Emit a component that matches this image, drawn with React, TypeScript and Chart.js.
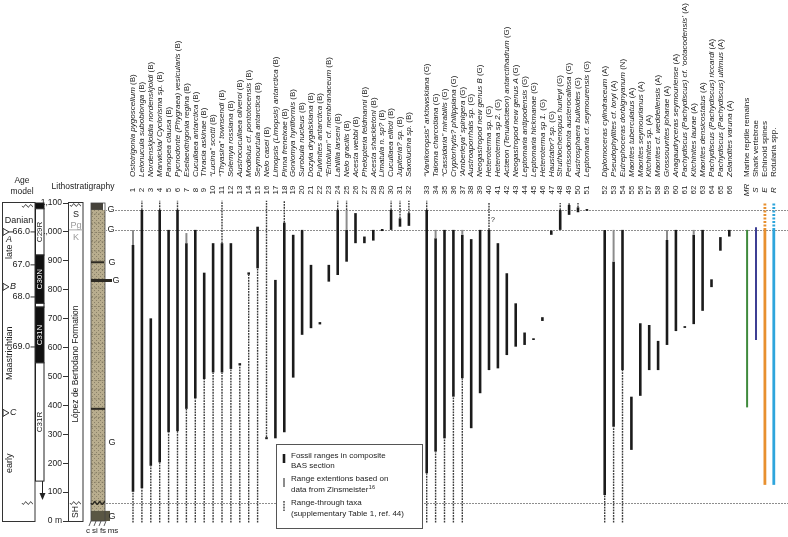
import React, { useEffect, useRef } from "react";
import { Chart, registerables } from "chart.js";

Chart.register(...registerables);

// ---------------- DATA ----------------
const taxonNames = [
  "Ostotrigonia pygoscelium (B)",
  "Leionucula suboblonga (B)",
  "Nordenskjoldia nordenskjoldi (B)",
  "Marwickia/ Cyclorisma sp. (B)",
  "Panopea clausa (B)",
  "Pycnodonte (Phygraea) vesicularis (B)",
  "Eselaevitrigonia regina (B)",
  "Cucullaea antarctica (B)",
  "Thracia askinae (B)",
  "\u201cLucina\u201d scotti (B)",
  "\u201cThyasira\u201d townsendi (B)",
  "Solemya rossiana (B)",
  "Austrocucullaea oliveroi (B)",
  "Modiolus cf. pontotocensis (B)",
  "Seymourtula antarctica (B)",
  "Nelo casei (B)",
  "Limopsis (Limopsis) antarctica (B)",
  "Pinna freneixae (B)",
  "Goniomya hyriiformis (B)",
  "Surobula nucleus (B)",
  "Dozyia drygalskiana (B)",
  "Pulvinites antarctica (B)",
  "\u201cEntolium\u201d cf. membranaceum (B)",
  "Lahillia larseni (B)",
  "Nelo gracilis (B)",
  "Acesta webbi (B)",
  "Phelopteria feldmanni (B)",
  "Acesta shackletoni (B)",
  "Limatula n. sp? (B)",
  "Cucullaea ellioti (B)",
  "Jupiteria? sp. (B)",
  "Saxolucina sp. (B)",
  "\u201cVanikoropsis\u201d arktowskiana (G)",
  "Taioma charcotiana (G)",
  "\u201cCassidaria\u201d mirabilis (G)",
  "Cryptorhytis? philippiana (G)",
  "\u2018Amberleya\u2019 spinigera (G)",
  "Austroaporrhais sp. (G)",
  "Neogastropod new genus B (G)",
  "Heteroterma sp. (G)",
  "Heteroterma sp 2. (G)",
  "Act\u00e6on (Tenuiact\u00e6on) antarctihadrum (G)",
  "Neogastropod new genus A (G)",
  "Leptomaria antipodensis (G)",
  "Leptomaria hickmanae (G)",
  "Heteroterma sp 1. (G)",
  "Haustator? sp. (G)",
  "Struthiochenopus hurleyi (G)",
  "Perissodonta austerocallosa (G)",
  "Austrosphaera bulloides (G)",
  "Leptomaria cf. seymourensis (G)",
  "Diplomoceras cylindraceum (A)",
  "Pseudophyllites cf. loryi (A)",
  "Eutrephoceras dorbignyanum (N)",
  "Maorites tuberculatus (A)",
  "Maorites seymourianus (A)",
  "Kitchinites sp. (A)",
  "Maorites cf. weddellensis (A)",
  "Grossouvrites joharae (A)",
  "Anagaudryceras seymouriense (A)",
  "Pachydiscus (Pachydiscus) cf. \u2018ootacodensis\u2019 (A)",
  "Kitchinites laurae (A)",
  "Maorites densicostatus (A)",
  "Pachydiscus (Pachydiscus) riccardi (A)",
  "Pachydiscus (Pachydiscus) ultimus (A)",
  "Zelandites varuna (A)",
];

// fossil ranges in composite BAS section (metres)
const rangeLow = [
  101, 113, 191, 203, 307, 311, 388, 424, 491, 514,
  514, 526, 538, 852, 874, 283, 286, 307, 496, 644,
  667, 680, 828, 851, 897, 961, 961, 970, 1003, 1007,
  1018, 1021, 165, 240, 286, 430, 494, 321, 442, 522,
  528, 574, 603, 609, 626, 692, 990, 1007, 1059, 1068,
  1073, 90, 326, 522, 246, 433, 522, 522, 609, 657,
  668, 681, 727, 809, 935, 984,
];
const rangeHigh = [
  955, 1076, 701, 1076, 1007, 1076, 961, 1007, 859, 961,
  961, 961, 546, 860, 1018, 290, 834, 1032, 990, 1007,
  886, 688, 886, 1076, 1007, 1065, 984, 1007, 1010, 1076,
  1047, 1065, 1076, 978, 1007, 1007, 990, 975, 1007, 1007,
  961, 857, 753, 652, 632, 705, 1005, 1076, 1093, 1085,
  1079, 1007, 897, 1007, 430, 684, 678, 623, 972, 1007,
  674, 990, 1007, 836, 982, 1007,
];
// range extensions based on data from Zinsmeister
const N = null;
const extLow = [
  955, N, N, N, N, N, 961, N, N, N,
  N, N, N, N, N, N, N, N, N, N,
  N, N, N, N, 1007, N, N, N, N, N,
  N, N, N, 978, N, N, 990, N, N, N,
  N, N, N, N, N, N, N, N, N, N,
  N, N, 897, N, N, N, N, N, 972, N,
  N, 990, N, N, N, N,
];
const extHigh = [
  1007, N, N, N, N, N, 996, N, N, N,
  N, N, N, N, N, N, N, N, N, N,
  N, N, N, N, 1076, N, N, N, N, N,
  N, N, N, 1007, N, N, 1007, N, N, N,
  N, N, N, N, N, N, N, N, N, N,
  N, N, 1007, N, N, N, N, N, 1007, N,
  N, 1007, N, N, N, N,
];
// range-through taxa: lower end of the line below the range, upper end above it
const throughBelow = [
  -5, -5, -5, -5, -5, -5, -5, -5, -5, -5,
  -5, -5, -5, -5, -5, N, N, N, N, N,
  N, N, N, N, N, N, N, N, N, N,
  N, N, -5, -5, -5, -5, -5, N, N, N,
  N, N, N, N, N, N, N, N, N, N,
  N, -5, -5, -5, N, N, N, N, N, N,
  N, N, N, N, N, N,
];
const throughAbove = [
  N, 1108, N, 1108, N, 1108, N, N, N, N,
  1108, N, N, N, N, 1108, N, 1108, N, N,
  N, N, N, 1108, 1108, N, N, N, N, 1108,
  1108, 1108, 1108, N, N, N, N, N, N, 1100,
  N, N, N, N, N, N, N, 1100, 1100, 1100,
  N, N, N, N, N, N, N, N, N, N,
  N, N, N, N, N, N,
];

const extraCodes = ["MR", "S", "E", "R"];
const extraNames = ["Marine reptile remains", "Shark vertebrae", "Echinoid spines", "Rotularia spp."];
const extraLow = [393, 626, 125, 125];
const extraHigh = [1007, 1016, 1007, 1007];
const extraDashedHigh = [N, N, 1099, 1099];
const extraColors = ["#3f8a3c", "#3d3f94", "#e8902f", "#2ea5dc"];

const horizonLines = [1076, 1007, 62];
const yTicks = [0, 100, 200, 300, 400, 500, 600, 700, 800, 900, 1000, 1100];

const ageLabels = ["66.0", "67.0", "68.0", "69.0"];
const ageHeights = [1000, 886, 775, 602];
const tieLabels = ["A", "B", "C"];
const tieHeights = [1000, 810, 374];
const chronNames = ["", "C29R", "C30N", "", "C31N", "C31R"];
const chronTop = [1100, 1080, 920, 753, 740, 547];
const chronBottom = [1080, 920, 753, 740, 547, 138];
const chronNormal = [true, false, true, false, true, false];
const glauconiteHeights = [1076, 1007, 895, 832, 273, 14];

// ---------------- LAYOUT HELPERS ----------------
const FONT = '"Liberation Sans", Arial, Helvetica, sans-serif';
const slotOf = (i: number) => i + 1 + (i >= 32 ? 1 : 0) + (i >= 51 ? 1 : 0);
const extraSlot = (j: number) => 70 + j;

const DOT_STYLE = { borderColor: "#3a3a3a", borderWidth: 1.4, borderDash: [1.8, 1.0] };
const EXT_STYLE = { borderColor: "#8c8c8c", borderWidth: 2 };
const RANGE_STYLE = { borderColor: "#1b1b1b", borderWidth: 2.6 };

function segDataset(label: string, slot: number, lo: number, hi: number, style: any) {
  return {
    label,
    data: [
      { x: slot, y: lo },
      { x: slot, y: hi },
    ],
    pointRadius: 0,
    pointHoverRadius: 0,
    tension: 0,
    fill: false,
    clip: false,
    borderCapStyle: "butt",
    ...style,
  };
}

function buildDatasets() {
  const ds: any[] = [];
  taxonNames.forEach((name, i) => {
    const s = slotOf(i);
    if (throughBelow[i] != null) ds.push(segDataset(name + " through", s, throughBelow[i] as number, rangeLow[i], DOT_STYLE));
    if (throughAbove[i] != null) {
      const top = extHigh[i] != null ? Math.max(rangeHigh[i], extHigh[i] as number) : rangeHigh[i];
      ds.push(segDataset(name + " through", s, top, throughAbove[i] as number, DOT_STYLE));
    }
    if (extLow[i] != null) ds.push(segDataset(name + " extension", s, extLow[i] as number, extHigh[i] as number, EXT_STYLE));
    ds.push(segDataset(name, s, rangeLow[i], rangeHigh[i], RANGE_STYLE));
  });
  extraCodes.forEach((c, j) => {
    const w = j >= 2 ? 2.8 : 2;
    ds.push(segDataset(extraNames[j], extraSlot(j), extraLow[j], extraHigh[j], { borderColor: extraColors[j], borderWidth: w }));
    if (extraDashedHigh[j] != null) {
      ds.push(
        segDataset(extraNames[j] + " (Danian)", extraSlot(j), extraHigh[j], extraDashedHigh[j] as number, {
          borderColor: extraColors[j],
          borderWidth: w,
          borderDash: [2, 1.5],
        })
      );
    }
  });
  return ds;
}

function wavy(ctx: CanvasRenderingContext2D, x0: number, x1: number, y: number) {
  ctx.beginPath();
  for (let x = x0; x <= x1; x += 0.5) {
    const yy = y + Math.sin(((x - x0) / 5) * Math.PI * 2) * 1.3;
    if (x === x0) ctx.moveTo(x, yy);
    else ctx.lineTo(x, yy);
  }
  ctx.stroke();
}

function rotText(ctx: CanvasRenderingContext2D, text: string, x: number, y: number, align: CanvasTextAlign) {
  ctx.save();
  ctx.translate(x, y);
  ctx.rotate(-Math.PI / 2);
  ctx.textAlign = align;
  ctx.textBaseline = "middle";
  ctx.fillText(text, 0, 0);
  ctx.restore();
}

const decor = {
  id: "decor",
  beforeDatasetsDraw(chart: any) {
    const ctx: CanvasRenderingContext2D = chart.ctx;
    const Y = (v: number) => chart.scales.y.getPixelForValue(v);
    ctx.save();
    ctx.strokeStyle = "#8e8e8e";
    ctx.lineWidth = 1.2;
    ctx.setLineDash([2, 1]);
    horizonLines.forEach((h) => {
      ctx.beginPath();
      ctx.moveTo(103, Math.round(Y(h)) + 0.5);
      ctx.lineTo(788, Math.round(Y(h)) + 0.5);
      ctx.stroke();
    });
    ctx.restore();
  },
  afterDraw(chart: any) {
    const ctx: CanvasRenderingContext2D = chart.ctx;
    const Y = (v: number) => chart.scales.y.getPixelForValue(v);
    const X = (v: number) => chart.scales.x.getPixelForValue(v);
    ctx.save();
    ctx.fillStyle = "#222";
    ctx.strokeStyle = "#333";
    ctx.lineWidth = 1;

    // ---- headers
    ctx.font = `8.5px ${FONT}`;
    ctx.textAlign = "center";
    ctx.textBaseline = "middle";
    ctx.fillText("Age", 22, 181);
    ctx.fillText("model", 22, 192);
    ctx.fillText("Lithostratigraphy", 83, 187);

    // ---- age model box
    const top = Math.round(Y(1100)) - 0.5;
    const bot = Math.round(Y(0)) + 0.5;
    ctx.strokeRect(2.5, top, 32.5, bot - top);
    chronNames.forEach((name, k) => {
      const y0 = Y(chronTop[k]);
      const y1 = Y(chronBottom[k]);
      ctx.fillStyle = chronNormal[k] ? "#111" : "#fff";
      ctx.fillRect(35, y0, 9, y1 - y0);
      ctx.strokeStyle = "#222";
      ctx.strokeRect(35.5, y0, 8.5, y1 - y0);
      if (name) {
        ctx.fillStyle = chronNormal[k] ? "#fff" : "#222";
        ctx.font = `8px ${FONT}`;
        rotText(ctx, name, 40, (y0 + y1) / 2, "center");
      }
    });
    ctx.strokeStyle = "#222";
    ctx.beginPath();
    ctx.moveTo(42.5, Y(138));
    ctx.lineTo(42.5, 498);
    ctx.stroke();
    ctx.fillStyle = "#222";
    ctx.beginPath();
    ctx.moveTo(39.5, 493);
    ctx.lineTo(45.5, 493);
    ctx.lineTo(42.5, 500);
    ctx.closePath();
    ctx.fill();
    ctx.strokeStyle = "#333";
    wavy(ctx, 22, 33, Y(1090));
    wavy(ctx, 22, 33, Y(62));
    ctx.fillStyle = "#222";
    ctx.font = `9px ${FONT}`;
    ctx.textAlign = "center";
    ctx.fillText("Danian", 19, Y(1041));
    ageLabels.forEach((a, k) => {
      const y = Y(ageHeights[k]);
      ctx.textAlign = "right";
      ctx.fillText(a, 30, y);
      ctx.beginPath();
      ctx.moveTo(30.5, y);
      ctx.lineTo(35, y);
      ctx.stroke();
    });
    rotText(ctx, "late", 10, Y(931), "center");
    rotText(ctx, "Maastrichtian", 10, Y(580), "center");
    rotText(ctx, "early", 10, Y(200), "center");
    tieLabels.forEach((t, k) => {
      const y = Y(tieHeights[k]);
      ctx.beginPath();
      ctx.moveTo(3, y - 3.5);
      ctx.lineTo(9, y);
      ctx.lineTo(3, y + 3.5);
      ctx.closePath();
      ctx.stroke();
      ctx.font = `italic 9px ${FONT}`;
      ctx.textAlign = "left";
      if (k === 0) {
        ctx.beginPath();
        ctx.moveTo(9, y);
        ctx.lineTo(13, y);
        ctx.stroke();
        ctx.fillText(t, 6, y + 8);
      } else ctx.fillText(t, 10, y);
    });

    // ---- lithostratigraphy box
    ctx.strokeStyle = "#333";
    ctx.strokeRect(68.5, top, 14.5, bot - top);
    wavy(ctx, 70, 81, Y(1093));
    wavy(ctx, 70, 81, Y(62));
    ctx.strokeStyle = "#aaa";
    ctx.beginPath();
    ctx.moveTo(69, Y(1007));
    ctx.lineTo(83, Y(1007));
    ctx.stroke();
    ctx.font = `9px ${FONT}`;
    ctx.textAlign = "center";
    ctx.fillStyle = "#222";
    ctx.fillText("S", 76, 215);
    ctx.fillStyle = "#9a9a9a";
    ctx.fillText("Pg", 76, 226);
    ctx.fillText("K", 76, 238);
    ctx.fillStyle = "#222";
    ctx.font = `8.5px ${FONT}`;
    rotText(ctx, "L\u00f3pez de Bertodano Formation", 76, Y(543), "center");
    rotText(ctx, "SH", 76, Y(31), "center");

    // ---- lithology column
    const pc = document.createElement("canvas");
    pc.width = 4;
    pc.height = 4;
    const p = pc.getContext("2d")!;
    p.fillStyle = "#b8ad8e";
    p.fillRect(0, 0, 4, 4);
    p.fillStyle = "#8a8068";
    p.fillRect(0, 0, 1, 1);
    p.fillRect(2, 2, 1, 1);
    const pat = ctx.createPattern(pc, "repeat")!;
    ctx.fillStyle = pat;
    ctx.fillRect(91, Y(1076), 14, Y(35) - Y(1076));
    ctx.fillStyle = "#45423a";
    ctx.fillRect(91, Y(1100), 12, Y(1076) - Y(1100));
    ctx.fillStyle = "#5a5643";
    ctx.fillRect(91, Y(35), 19, Y(0) - Y(35));
    ctx.strokeStyle = "#7a725c";
    ctx.lineWidth = 0.6;
    ctx.setLineDash([2, 1.5]);
    for (let m = 70; m < 1070; m += 32) {
      ctx.beginPath();
      ctx.moveTo(91, Y(m));
      ctx.lineTo(105, Y(m));
      ctx.stroke();
    }
    ctx.setLineDash([]);
    ctx.strokeStyle = "#444";
    ctx.lineWidth = 0.8;
    ctx.strokeRect(91, Y(1100), 14, Y(0) - Y(1100));
    ctx.strokeStyle = "#2d2a22";
    ctx.lineWidth = 2;
    [[895, 104], [388, 105]].forEach(([m, x1]) => {
      ctx.beginPath();
      ctx.moveTo(91, Y(m));
      ctx.lineTo(x1, Y(m));
      ctx.stroke();
    });
    ctx.lineWidth = 3;
    ctx.beginPath();
    ctx.moveTo(91, Y(832));
    ctx.lineTo(112, Y(832));
    ctx.stroke();
    ctx.lineWidth = 1.5;
    wavy(ctx, 91, 105, Y(62));
    ctx.lineWidth = 0.8;
    ctx.strokeStyle = "#333";
    [91, 96, 101, 106].forEach((x) => {
      ctx.beginPath();
      ctx.moveTo(x, Y(0));
      ctx.lineTo(x - 2, Y(0) + 5);
      ctx.stroke();
    });
    ctx.fillStyle = "#222";
    ctx.font = `8px ${FONT}`;
    ctx.textAlign = "center";
    ctx.fillText("c", 88, 531);
    ctx.fillText("si", 95, 531);
    ctx.fillText("fs", 103, 531);
    ctx.fillText("ms", 113, 531);
    ctx.font = `9px ${FONT}`;
    glauconiteHeights.forEach((m, k) => {
      const y = Y(m);
      const x = k < 2 ? 111 : k === 3 ? 116 : 112;
      ctx.fillStyle = "#fff";
      if (k < 2) ctx.fillRect(x - 4, y - 4, 8, 8);
      ctx.fillStyle = "#222";
      ctx.fillText("G", x, y);
    });

    // ---- taxon labels and numbers
    const drawLabel = (x: number, num: string, name: string, italicNum: boolean) => {
      ctx.save();
      ctx.translate(x, 0);
      ctx.rotate(-Math.PI / 2);
      ctx.textBaseline = "middle";
      ctx.fillStyle = "#222";
      ctx.font = italicNum ? `italic 8px ${FONT}` : `8px ${FONT}`;
      ctx.textAlign = "center";
      ctx.fillText(num, -190, 0);
      ctx.textAlign = "left";
      const m = name.match(/^(.*?)(\s\([A-Z]\))?$/)!;
      const main = m[1];
      const suffix = m[2] || "";
      if (suffix) {
        ctx.font = `italic 8px ${FONT}`;
        ctx.fillText(main, -177, 0);
        const w = ctx.measureText(main).width;
        ctx.font = `8px ${FONT}`;
        ctx.fillText(suffix, -177 + w, 0);
      } else {
        ctx.font = `8px ${FONT}`;
        ctx.fillText(main, -177, 0);
      }
      ctx.restore();
    };
    taxonNames.forEach((n, i) => drawLabel(X(slotOf(i)), String(i + 1), n, false));
    extraNames.forEach((n, j) => drawLabel(X(extraSlot(j)), extraCodes[j], n, true));
    ctx.fillStyle = "#222";
    ctx.font = `7px ${FONT}`;
    ctx.textAlign = "center";
    ctx.fillText("?", X(slotOf(39)) + 4, Y(1040));

    // ---- legend
    const lx = 276.5, ly = 444.5, lw = 146, lh = 84;
    ctx.fillStyle = "#fff";
    ctx.fillRect(lx, ly, lw, lh);
    ctx.strokeStyle = "#555";
    ctx.lineWidth = 1;
    ctx.strokeRect(lx, ly, lw, lh);
    ctx.lineCap = "butt";
    ctx.strokeStyle = RANGE_STYLE.borderColor;
    ctx.lineWidth = RANGE_STYLE.borderWidth;
    ctx.beginPath();
    ctx.moveTo(284, 454);
    ctx.lineTo(284, 463);
    ctx.stroke();
    ctx.strokeStyle = EXT_STYLE.borderColor;
    ctx.lineWidth = EXT_STYLE.borderWidth;
    ctx.beginPath();
    ctx.moveTo(284, 478);
    ctx.lineTo(284, 487);
    ctx.stroke();
    ctx.strokeStyle = DOT_STYLE.borderColor;
    ctx.lineWidth = DOT_STYLE.borderWidth;
    ctx.setLineDash(DOT_STYLE.borderDash);
    ctx.beginPath();
    ctx.moveTo(284, 501);
    ctx.lineTo(284, 511);
    ctx.stroke();
    ctx.setLineDash([]);
    ctx.fillStyle = "#222";
    ctx.font = `8px ${FONT}`;
    ctx.textAlign = "left";
    ctx.textBaseline = "middle";
    ctx.fillText("Fossil ranges in composite", 291, 456);
    ctx.fillText("BAS section", 291, 466);
    ctx.fillText("Range extentions based on", 291, 479);
    ctx.fillText("data from Zinsmeister", 291, 490);
    const zw = ctx.measureText("data from Zinsmeister").width;
    ctx.font = `5.5px ${FONT}`;
    ctx.fillText("16", 291 + zw + 0.5, 487);
    ctx.font = `8px ${FONT}`;
    ctx.fillText("Range-through taxa", 291, 503);
    ctx.fillText("(supplementary Table 1, ref. 44)", 291, 514);
    ctx.restore();
  },
};

export default function App() {
  const ref = useRef<HTMLCanvasElement>(null);
  useEffect(() => {
    const canvas = ref.current!;
    const chart = new Chart(canvas, {
      type: "line",
      data: { datasets: buildDatasets() },
      options: {
        animation: false,
        responsive: false,
        devicePixelRatio: 1,
        events: [],
        layout: { padding: { top: 203, bottom: 16, left: 0, right: 0 } },
        plugins: { legend: { display: false }, tooltip: { enabled: false } },
        scales: {
          x: {
            type: "linear",
            min: 1 - 65 / 8.9,
            max: 1 + 655 / 8.9,
            display: false,
          },
          y: {
            type: "linear",
            min: 0,
            max: 1100,
            afterFit: (s: any) => {
              s.width = 68;
            },
            afterBuildTicks: (s: any) => {
              s.ticks = yTicks.map((v) => ({ value: v }));
            },
            ticks: {
              padding: 1,
              color: "#222",
              font: { family: FONT, size: 8.5 },
              callback: (v: any) => (Number(v) === 0 ? "0 m" : Number(v).toLocaleString("en-US")),
            },
            grid: { drawOnChartArea: false, drawTicks: true, tickLength: 5, color: "#333" },
            border: { display: true, color: "#333" },
          },
        },
      } as any,
      plugins: [decor],
    });
    return () => chart.destroy();
  }, []);
  return (
    <div style={{ position: "absolute", left: 0, top: 0, width: 788, height: 537, background: "#fff" }}>
      <canvas ref={ref} width={788} height={537} style={{ display: "block", width: 788, height: 537 }} />
    </div>
  );
}
